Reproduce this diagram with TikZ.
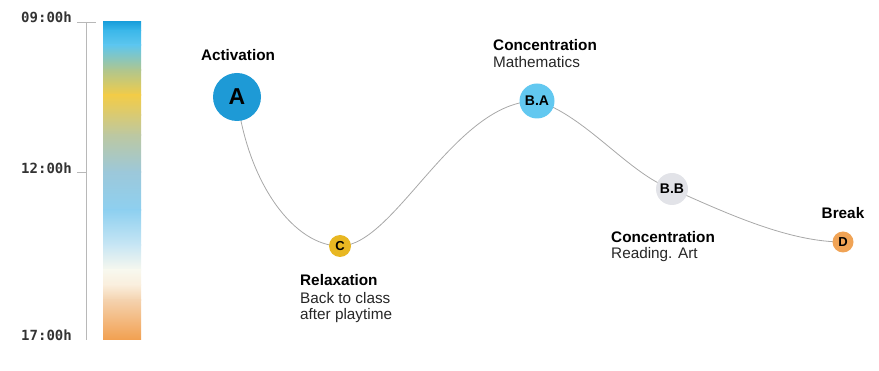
\documentclass[tikz,border=0pt]{standalone}
\usepackage{fontspec}
\setmainfont{Liberation Sans}
\setmonofont{DejaVu Sans Mono}
\usetikzlibrary{backgrounds}
\definecolor{axisgray}{HTML}{B8B8B8}
\definecolor{curvegray}{HTML}{A8A8A8}
\definecolor{labelgray}{HTML}{333333}
\definecolor{subgray}{HTML}{262626}
\definecolor{cA}{HTML}{1E9AD6}
\definecolor{cBA}{HTML}{62C8F0}
\definecolor{cBB}{HTML}{E2E3E8}
\definecolor{cC}{HTML}{E8B722}
\definecolor{cD}{HTML}{F0A355}
\definecolor{g1}{HTML}{1BA0DC}
\definecolor{g2}{HTML}{3CB8EA}
\definecolor{g3}{HTML}{5EC6EE}
\definecolor{g4}{HTML}{B0C68E}
\definecolor{g5}{HTML}{F2CC48}
\definecolor{g6}{HTML}{D8CA74}
\definecolor{g7}{HTML}{BCC8A2}
\definecolor{g8}{HTML}{9CC8DA}
\definecolor{g9}{HTML}{8ED0F0}
\definecolor{g10}{HTML}{C8E6F4}
\definecolor{g11}{HTML}{F8F8EE}
\definecolor{g12}{HTML}{FAEEDC}
\definecolor{g13}{HTML}{F4D2AE}
\definecolor{g14}{HTML}{F2A050}
\tikzset{
  timelabel/.style={anchor=east, font=\ttfamily\bfseries\fontsize{14}{16}\selectfont, text=labelgray, inner sep=0pt},
  stage/.style={circle, inner sep=0pt, font=\bfseries\fontsize{14}{16}\selectfont, text=black},
  title/.style={font=\bfseries\fontsize{15.3}{17}\selectfont, inner sep=0pt, text=black},
  sub/.style={font=\fontsize{15.3}{17}\selectfont, inner sep=0pt, text=subgray},
  link/.style={draw=curvegray, line width=0.8pt},
}
\begin{document}
\begin{tikzpicture}[x=1pt,y=-1pt]
\useasboundingbox (0,0) rectangle (879,371);
% time axis
\draw[axisgray, line width=0.8pt] (86,22) -- (86,340);
\draw[axisgray, line width=0.8pt] (77,22) -- (96,22);
\draw[axisgray, line width=0.8pt] (77,172) -- (87,172);
\node[timelabel] (t9) at (72,17) {09:00h};
\node[timelabel] (t12) at (72,168) {12:00h};
\node[timelabel] (t17) at (72,335) {17:00h};
% gradient bar
\shade[top color=g1, bottom color=g2] (103,22) rectangle (141,31);
\shade[top color=g2, bottom color=g3] (103,30.5) rectangle (141,45.5);
\shade[top color=g3, bottom color=g4] (103,45) rectangle (141,70.5);
\shade[top color=g4, bottom color=g5] (103,70) rectangle (141,95.5);
\shade[top color=g5, bottom color=g6] (103,95) rectangle (141,115.5);
\shade[top color=g6, bottom color=g7] (103,115) rectangle (141,135.5);
\shade[top color=g7, bottom color=g8] (103,135) rectangle (141,172.5);
\shade[top color=g8, bottom color=g9] (103,172) rectangle (141,210.5);
\shade[top color=g9, bottom color=g10] (103,210) rectangle (141,245.5);
\shade[top color=g10, bottom color=g11] (103,245) rectangle (141,270.5);
\shade[top color=g11, bottom color=g12] (103,270) rectangle (141,285.5);
\shade[top color=g12, bottom color=g13] (103,285) rectangle (141,300.5);
\shade[top color=g13, bottom color=g14] (103,300) rectangle (141,340);
% stages
\node[stage, fill=cA, minimum size=48pt, font=\bfseries\fontsize{23}{25}\selectfont] (A) at (237,97) {A};
\node[stage, fill=cC, minimum size=22pt, font=\bfseries\fontsize{13}{15}\selectfont] (C) at (340,246) {C};
\node[stage, fill=cBA, minimum size=35pt] (BA) at (537,101) {B.A};
\node[stage, fill=cBB, minimum size=32pt] (BB) at (672,189) {B.B};
\node[stage, fill=cD, minimum size=21pt, font=\bfseries\fontsize{13}{15}\selectfont] (D) at (843,242) {D};
% labels
\node[title] (lA) at (238,55) {Activation};
\node[title, anchor=west] (lC1) at (300,280) {Relaxation};
\node[sub, anchor=west] (lC2) at (300,298) {Back to class};
\node[sub, anchor=west] (lC3) at (300,316) {after playtime};
\node[title, anchor=west] (lBA1) at (493,45) {Concentration};
\node[sub, anchor=west] (lBA2) at (493,62) {Mathematics};
\node[title, anchor=west] (lBB1) at (611,237) {Concentration};
\node[sub, anchor=west] (lBB2) at (611,255) {Reading. Art};
\node[title] (lD) at (843,213) {Break};
% curve
\begin{scope}[on background layer]
\draw[link] (A.center) .. controls (248,185) and (295,246) .. (C.center);
\draw[link] (C.center) .. controls (395,246) and (455,100) .. (BA.center);
\draw[link] (BA.center) .. controls (585,115) and (630,175) .. (BB.center);
\draw[link] (BB.center) .. controls (730,215) and (790,242) .. (D.center);
\end{scope}
\end{tikzpicture}
\end{document}
